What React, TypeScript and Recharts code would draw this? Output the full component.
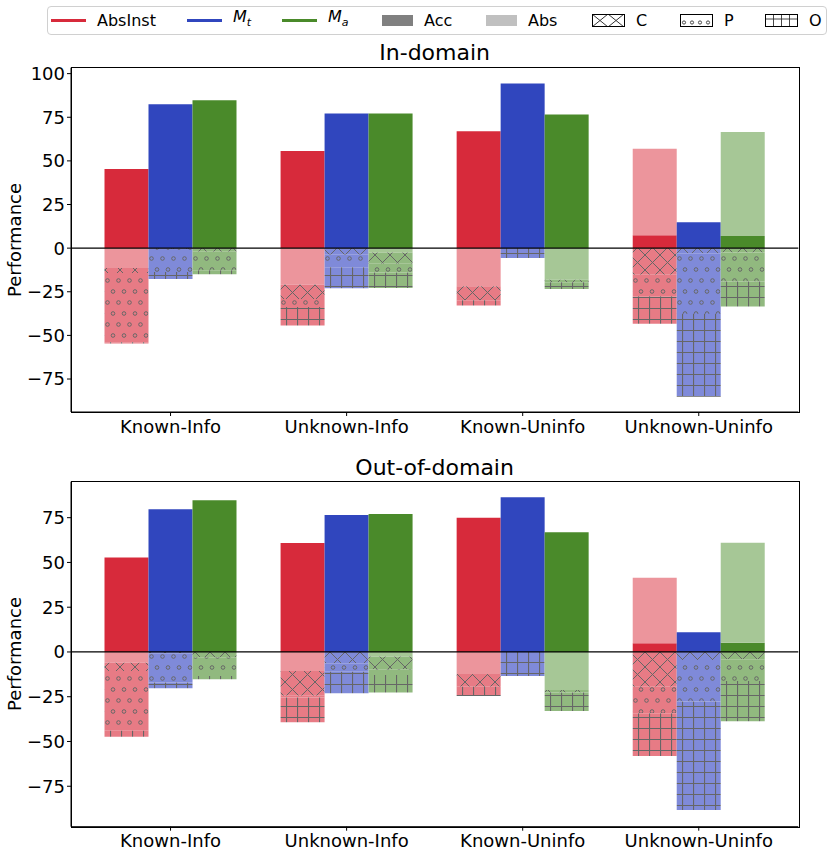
import { BarChart, Bar, XAxis, YAxis, ReferenceLine } from "recharts";

const CATEGORIES = ["Known-Info", "Unknown-Info", "Known-Uninfo", "Unknown-Uninfo"];
const MODELS = ["AbsInst", "Mt", "Ma"];

// In-domain, per model: accuracy, abstention (positive), wrong abstention, C, P, O
const IN_ABSINST_ACC = [45.3, 55.6, 67.0, 7.4];
const IN_ABSINST_ABS = [0, 0, 0, 49.5];
const IN_ABSINST_ABSNEG = [-11.4, -21.0, -21.9, 0];
const IN_ABSINST_C = [-2.9, -8.2, -8.0, -15.3];
const IN_ABSINST_P = [-39.6, -4.5, 0, -12.3];
const IN_ABSINST_O = [-0.8, -10.7, -2.9, -15.7];

const IN_MT_ACC = [82.4, 77.1, 94.3, 14.9];
const IN_MT_ABS = [0, 0, 0, 0];
const IN_MT_ABSNEG = [0, 0, 0, 0];
const IN_MT_C = [-0.5, -3.8, 0, -3.0];
const IN_MT_P = [-13.2, -7.1, 0, -34.7];
const IN_MT_O = [-4.0, -12.1, -5.7, -47.4];

const IN_MA_ACC = [84.7, 77.1, 76.6, 7.0];
const IN_MA_ABS = [0, 0, 0, 59.6];
const IN_MA_ABSNEG = [0, -2.5, -18.1, 0];
const IN_MA_C = [-2.0, -6.5, -1.5, -2.5];
const IN_MA_P = [-10.7, -4.9, 0, -16.6];
const IN_MA_O = [-2.3, -9.0, -3.8, -14.3];

// Out-of-domain
const OUT_ABSINST_ACC = [52.7, 60.9, 75.0, 4.8];
const OUT_ABSINST_ABS = [0, 0, 0, 36.7];
const OUT_ABSINST_ABSNEG = [-6.0, -10.6, -12.3, 0];
const OUT_ABSINST_C = [-4.6, -13.8, -7.1, -19.4];
const OUT_ABSINST_P = [-33.4, -1.0, 0, -14.9];
const OUT_ABSINST_O = [-3.3, -13.9, -5.2, -23.8];

const OUT_MT_ACC = [79.7, 76.5, 86.4, 11.0];
const OUT_MT_ABS = [0, 0, 0, 0];
const OUT_MT_ABSNEG = [0, 0, 0, 0];
const OUT_MT_C = [-0.7, -6.3, 0, -4.5];
const OUT_MT_P = [-16.4, -4.7, 0, -23.2];
const OUT_MT_O = [-3.2, -12.0, -13.4, -60.6];

const OUT_MA_ACC = [84.7, 77.1, 66.9, 5.2];
const OUT_MA_ABS = [0, 0, 0, 55.8];
const OUT_MA_ABSNEG = [0, -2.6, -21.2, 0];
const OUT_MA_C = [-3.0, -7.1, -1.5, -4.1];
const OUT_MA_P = [-10.4, -3.1, 0, -12.1];
const OUT_MA_O = [-1.9, -9.8, -10.3, -22.5];

const IN_TICKS = [-75, -50, -25, 0, 25, 50, 75, 100];
const OUT_TICKS = [-75, -50, -25, 0, 25, 50, 75];

const PARTS = ["acc", "abs", "absneg", "c", "p", "o"];

const SOLID: Record<string, string> = { AbsInst: "#d72a3b", Mt: "#3046be", Ma: "#4a8a2a" };
const LIGHT: Record<string, string> = { AbsInst: "#ec959c", Mt: "#98a2e0", Ma: "#a6c796" };
const HATCH_BG: Record<string, string> = { AbsInst: "#e77b85", Mt: "#7f8ad9", Ma: "#91b97f" };
const HATCH_INK = "#666";
const FONT = "'DejaVu Sans', sans-serif";

const PLOT_LEFT = 71;
const PLOT_WIDTH = 727.3;

function buildRows(series: Record<string, number[][]>) {
  return CATEGORIES.map((cat, i) => {
    const row: Record<string, string | number> = { cat };
    MODELS.forEach((m) => {
      PARTS.forEach((part, k) => {
        row[`${m}_${part}`] = series[m][k][i];
      });
    });
    return row;
  });
}

const IN_ROWS = buildRows({
  AbsInst: [IN_ABSINST_ACC, IN_ABSINST_ABS, IN_ABSINST_ABSNEG, IN_ABSINST_C, IN_ABSINST_P, IN_ABSINST_O],
  Mt: [IN_MT_ACC, IN_MT_ABS, IN_MT_ABSNEG, IN_MT_C, IN_MT_P, IN_MT_O],
  Ma: [IN_MA_ACC, IN_MA_ABS, IN_MA_ABSNEG, IN_MA_C, IN_MA_P, IN_MA_O],
});

const OUT_ROWS = buildRows({
  AbsInst: [OUT_ABSINST_ACC, OUT_ABSINST_ABS, OUT_ABSINST_ABSNEG, OUT_ABSINST_C, OUT_ABSINST_P, OUT_ABSINST_O],
  Mt: [OUT_MT_ACC, OUT_MT_ABS, OUT_MT_ABSNEG, OUT_MT_C, OUT_MT_P, OUT_MT_O],
  Ma: [OUT_MA_ACC, OUT_MA_ABS, OUT_MA_ABSNEG, OUT_MA_C, OUT_MA_P, OUT_MA_O],
});

function Patterns({ prefix }: { prefix: string }) {
  return (
    <defs>
      {MODELS.map((m) => (
        <g key={m}>
          <pattern id={`${prefix}-${m}-c`} patternUnits="userSpaceOnUse" width={15} height={15}>
            <rect width={15} height={15} fill={HATCH_BG[m]} />
            <path d="M0 0 L15 15 M15 0 L0 15" stroke={HATCH_INK} strokeWidth={1} />
          </pattern>
          <pattern id={`${prefix}-${m}-p`} patternUnits="userSpaceOnUse" width={11} height={22}>
            <rect width={11} height={22} fill={HATCH_BG[m]} />
            <circle cx={3} cy={5.5} r={1.8} fill="none" stroke={HATCH_INK} strokeWidth={1} />
            <circle cx={8.5} cy={16.5} r={1.8} fill="none" stroke={HATCH_INK} strokeWidth={1} />
          </pattern>
          <pattern id={`${prefix}-${m}-o`} patternUnits="userSpaceOnUse" width={11} height={11}>
            <rect width={11} height={11} fill={HATCH_BG[m]} />
            <path d="M0 0.5 H11 M0.5 0 V11" stroke={HATCH_INK} strokeWidth={1.2} />
          </pattern>
        </g>
      ))}
    </defs>
  );
}

function fillFor(prefix: string, m: string, part: string) {
  if (part === "acc") return SOLID[m];
  if (part === "abs" || part === "absneg") return LIGHT[m];
  return `url(#${prefix}-${m}-${part})`;
}

const fmt = (v: number) => String(v).replace("-", "\u2212");

function Panel({
  prefix,
  rows,
  domain,
  ticks,
  height,
  marginTop,
  marginBottom,
}: {
  prefix: string;
  rows: Record<string, string | number>[];
  domain: [number, number];
  ticks: number[];
  height: number;
  marginTop: number;
  marginBottom: number;
}) {
  const tickStyle = { fill: "#000", fontSize: 18, fontFamily: FONT };
  const plotHeight = height - marginTop - marginBottom - 30;
  return (
    <div style={{ position: "relative", width: 830, height }}>
      <BarChart
        width={830}
        height={height}
        data={rows}
        stackOffset="sign"
        barGap={0}
        margin={{ top: marginTop, right: 830 - PLOT_LEFT - PLOT_WIDTH, bottom: marginBottom, left: 12 }}
      >
        <Patterns prefix={prefix} />
        <XAxis
          dataKey="cat"
          height={30}
          padding={{ left: 11.5, right: 11.5 }}
          tick={tickStyle}
          tickSize={4}
          tickMargin={4}
          stroke="#000"
          interval={0}
        />
        <YAxis
          type="number"
          domain={domain}
          ticks={ticks}
          allowDataOverflow
          width={PLOT_LEFT - 12}
          tick={tickStyle}
          tickSize={4}
          tickMargin={2}
          stroke="#000"
          tickFormatter={fmt}
        />
        {MODELS.flatMap((m) =>
          PARTS.map((part) => (
            <Bar
              key={`${m}_${part}`}
              dataKey={`${m}_${part}`}
              stackId={m}
              barSize={44}
              fill={fillFor(prefix, m, part)}
              isAnimationActive={false}
            />
          ))
        )}
        <ReferenceLine y={0} stroke="#000" strokeWidth={1.2} />
      </BarChart>
      <div
        style={{
          position: "absolute",
          left: PLOT_LEFT - 0.5,
          top: marginTop - 0.5,
          width: PLOT_WIDTH,
          height: plotHeight,
          border: "1px solid #000",
          pointerEvents: "none",
        }}
      />
    </div>
  );
}

function LegendSwatch({ kind, color, hatch }: { kind: string; color?: string; hatch?: string }) {
  if (kind === "line") {
    return <div style={{ width: 35, height: 3, background: color }} />;
  }
  if (kind === "rect") {
    return <div style={{ width: 31, height: 11, background: color }} />;
  }
  return (
    <svg width={33} height={13}>
      <defs>
        <pattern id={`lg-${hatch}`} patternUnits="userSpaceOnUse" width={hatch === "c" ? 16 : 8} height={hatch === "c" ? 13 : 11}>
          {hatch === "c" && <path d="M0 0 L16 13 M16 0 L0 13" stroke="#333" strokeWidth={1} />}
          {hatch === "p" && <circle cx={4} cy={8.5} r={1.6} fill="none" stroke="#333" strokeWidth={0.9} />}
          {hatch === "o" && <path d="M0.5 0 V11 M0 5 H8" stroke="#333" strokeWidth={0.9} />}
        </pattern>
      </defs>
      <rect x={0.5} y={0.5} width={32} height={12} fill={`url(#lg-${hatch})`} stroke="#000" strokeWidth={1} />
    </svg>
  );
}

function Legend() {
  const items: { label: React.ReactNode; kind: string; color?: string; hatch?: string; x: number }[] = [
    { label: "AbsInst", kind: "line", color: SOLID.AbsInst, x: 51 },
    { label: <i>M<sub style={{ fontSize: 11 }}>t</sub></i>, kind: "line", color: SOLID.Mt, x: 187 },
    { label: <i>M<sub style={{ fontSize: 11 }}>a</sub></i>, kind: "line", color: SOLID.Ma, x: 282 },
    { label: "Acc", kind: "rect", color: "#808080", x: 382 },
    { label: "Abs", kind: "rect", color: "#c0c0c0", x: 486 },
    { label: "C", kind: "hatch", hatch: "c", x: 592 },
    { label: "P", kind: "hatch", hatch: "p", x: 680 },
    { label: "O", kind: "hatch", hatch: "o", x: 765 },
  ];
  return (
    <div
      style={{
        position: "absolute",
        left: 47,
        top: 6,
        width: 778,
        height: 27,
        border: "1px solid #d0d0d0",
        borderRadius: 4,
        background: "#fff",
      }}
    >
      {items.map((it, i) => (
        <div
          key={i}
          style={{
            position: "absolute",
            left: it.x - 48,
            top: 0,
            height: 27,
            display: "flex",
            alignItems: "center",
            gap: 11,
            fontSize: 16,
            fontFamily: FONT,
            lineHeight: "16px",
          }}
        >
          <LegendSwatch kind={it.kind} color={it.color} hatch={it.hatch} />
          <span>{it.label}</span>
        </div>
      ))}
    </div>
  );
}

const titleStyle: React.CSSProperties = {
  position: "absolute",
  left: PLOT_LEFT,
  width: PLOT_WIDTH,
  textAlign: "center",
  fontSize: 22,
  fontFamily: FONT,
  lineHeight: "26px",
};

const yLabelStyle: React.CSSProperties = {
  position: "absolute",
  left: 14,
  fontSize: 18,
  fontFamily: FONT,
  transform: "translate(-50%, -50%) rotate(-90deg)",
  whiteSpace: "nowrap",
};

export default function App() {
  return (
    <div style={{ position: "absolute", left: 0, top: 0, width: 830, height: 857, background: "#fff", fontFamily: FONT }}>
      <div style={{ position: "absolute", left: 0, top: 0 }}>
        <Panel
          prefix="in"
          rows={IN_ROWS}
          domain={[-93.9, 103.4]}
          ticks={IN_TICKS}
          height={442}
          marginTop={67.7}
          marginBottom={0}
        />
      </div>
      <div style={{ position: "absolute", left: 0, top: 442 }}>
        <Panel
          prefix="out"
          rows={OUT_ROWS}
          domain={[-97.6, 95.1]}
          ticks={OUT_TICKS}
          height={415}
          marginTop={39.7}
          marginBottom={0.3}
        />
      </div>
      <Legend />
      <div style={{ ...titleStyle, top: 40 }}>In-domain</div>
      <div style={{ ...titleStyle, top: 455 }}>Out-of-domain</div>
      <div style={{ ...yLabelStyle, top: 240 }}>Performance</div>
      <div style={{ ...yLabelStyle, top: 654 }}>Performance</div>
    </div>
  );
}
